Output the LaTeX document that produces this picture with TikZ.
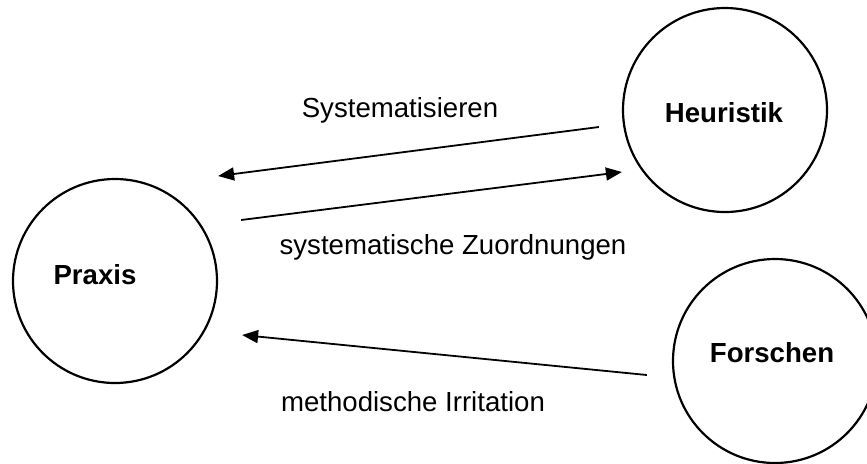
\documentclass[tikz,border=0pt]{standalone}
\usepackage{fontspec}
\setmainfont{Liberation Sans}
\usetikzlibrary{arrows.meta,calc}
\tikzset{
  ring/.style ={draw=black,circle,line width=1.1pt,minimum size=102pt,inner sep=0pt},
  term/.style ={font=\fontsize{13.8}{16}\selectfont\bfseries,inner sep=0pt},
  lbl/.style  ={font=\fontsize{13.8}{16}\selectfont,inner sep=0pt},
  a/.style    ={-{Triangle[length=8pt,width=6.5pt]},line width=.9pt,black},
}
\begin{document}
\begin{tikzpicture}[x=.5pt,y=-.5pt]
  \useasboundingbox (0,0) rectangle (867,463);

  % --- circles ---
  \node[ring] (praxis) at (115,281) {};
  \node[ring] (heur)   at (725,110) {};
  \node[ring] (forsch) at (775,361) {};
  \node[term] (tpraxis) at ($(praxis)+(-20,-6)$) {Praxis};
  \node[term] (theur)   at ($(heur)+(-1,3)$)     {Heuristik};
  \node[term] (tforsch) at ($(forsch)+(-3,-8)$)  {Forschen};

  % arrows
  \draw[a] ($(heur.west)+(-23,17)$) -- ($(praxis.east)+(0,-105)$);
  \draw[a] ($(praxis.east)+(23,-61)$) -- ($(heur.west)+(0,62)$);
  \draw[a] ($(forsch.west)+(-25,14)$) -- ($(praxis.east)+(24,54)$);

  % labels
  \node[lbl] (lsys)  at (400,110) {Systematisieren};
  \node[lbl] (lzuo)  at (453,247) {systematische Zuordnungen};
  \node[lbl] (lirr)  at (413,402) {methodische Irritation};
\end{tikzpicture}
\end{document}
